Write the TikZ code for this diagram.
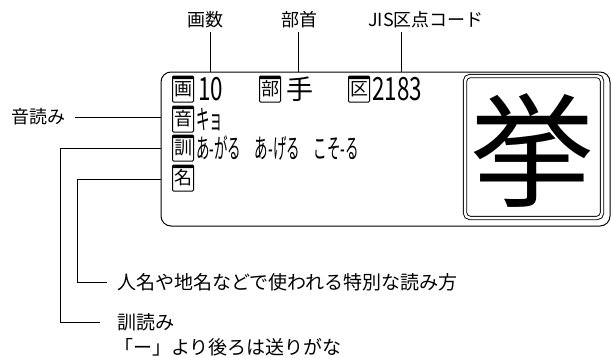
\documentclass[tikz,border=0pt]{standalone}
\usepackage{fontspec}
\usepackage{graphicx}
\setmainfont{Noto Sans CJK JP}
\begin{document}
\begin{tikzpicture}[x=1pt,y=-1pt,
  lbl/.style={font=\fontsize{18}{20}\selectfont, inner sep=0},
  blbl/.style={font=\fontsize{19}{21}\selectfont, inner sep=0, anchor=west},
  ibox/.style={draw, line width=1pt, minimum width=21pt, minimum height=26pt, inner sep=0,
    rounded corners=1pt, font=\fontsize{18}{18}\selectfont,
    path picture={\fill (path picture bounding box.north west) rectangle ([yshift=-3pt]path picture bounding box.north east);}},
  dig/.style={anchor=west, inner sep=0, font=\fontsize{32}{32}\selectfont},
  half/.style={anchor=west, inner sep=0, font=\fontsize{27}{27}\selectfont},
  lead/.style={line width=0.8pt}]
\useasboundingbox (0,0) rectangle (611,357);

% main panel
\node[draw, rounded corners=10pt, line width=1pt, minimum width=449pt, minimum height=154pt, inner sep=0] (panel) at (385.5,149) {};
% kanji frame
\node[draw, double, double distance=2.5pt, line width=0.9pt, rounded corners=5pt, minimum width=137pt, minimum height=142pt, inner sep=0] (frame) at (533.5,147) {};
\node[inner sep=0, font=\fontsize{124}{124}\selectfont] (kanji) at (532,150) {挙};

% panel rows
\node[ibox] (ga) at (183,89) {画};
\node[dig] (n10) at (198,89) {\scalebox{0.7}[1]{10}};
\node[ibox] (bu) at (270,89) {部};
\node[half] (te) at (286,89) {手};
\node[ibox] (ku) at (359,89) {区};
\node[dig] (code) at (372,89) {\scalebox{0.7}[1]{2183}};
\node[ibox] (on) at (183,119) {音};
\node[half] (kyo) at (196,120) {\scalebox{0.5}[1]{キョ}};
\node[ibox] (kun) at (183,148) {訓};
\node[half] (kunt) at (196,148) {\scalebox{0.5}[1]{あ-がる　あ-げる　こそ-る}};
\node[ibox] (na) at (183,178) {名};

% top labels
\node[lbl] (lga) at (205,20) {画数};
\node[lbl] (lbu) at (299,20) {部首};
\node[lbl, anchor=west] (ljis) at (368,20) {JIS区点コード};
\coordinate (t1) at (210,32);
\coordinate (t2) at (298,32);
\coordinate (t3) at (401,32);
\draw[lead] (t1) -- (t1 |- panel.north);
\draw[lead] (t2) -- (t2 |- panel.north);
\draw[lead] (t3) -- (t3 |- panel.north);

% left label
\node[lbl, anchor=east] (lon) at (66,117) {音読み};
\draw[lead] ([xshift=9pt]lon.east) -- (lon.east -| panel.west);

% bottom labels
\node[blbl] (lname) at (117,282) {人名や地名などで使われる特別な読み方};
\node[blbl] (lkun) at (117,322) {訓読み};
\node[blbl] (lkun2) at (114,347) {「ー」より後ろは送りがな};

\coordinate (kunA) at (161,148);
\coordinate (kunC) at (60,322);
\draw[lead] (kunA) -| (kunC) -- ([xshift=-17pt]lkun.west);
\coordinate (naA) at (161,179);
\coordinate (naC) at (77,282);
\draw[lead] (naA) -| (naC) -- ([xshift=-10pt]lname.west);
\end{tikzpicture}
\end{document}
